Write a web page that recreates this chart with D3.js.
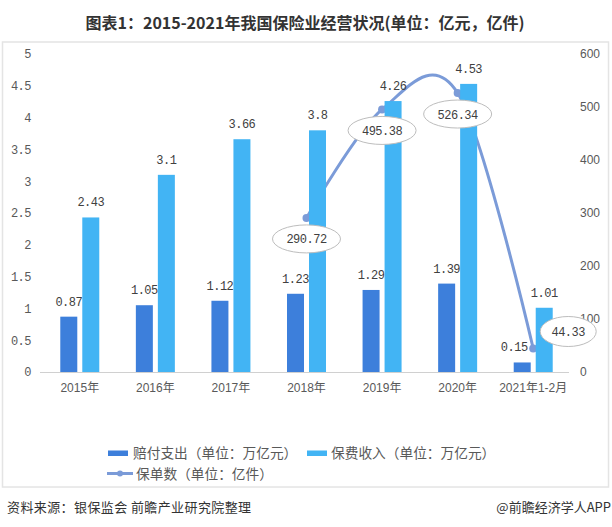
<!DOCTYPE html>
<html><head><meta charset="utf-8">
<script src="https://cdn.jsdelivr.net/npm/d3@7"></script>
<style>
html,body{margin:0;padding:0;background:#fff;}
svg{display:block;}
</style></head>
<body>
<script>
const categories = ["2015年","2016年","2017年","2018年","2019年","2020年","2021年1-2月"];
const payout = [0.87,1.05,1.12,1.23,1.29,1.39,0.15];
const premium = [2.43,3.1,3.66,3.8,4.26,4.53,1.01];
const policies = [null,null,null,290.72,495.38,526.34,44.33];
const leftTicks = [0,0.5,1,1.5,2,2.5,3,3.5,4,4.5,5];
const rightTicks = [0,100,200,300,400,500,600];
const seriesNames = ["赔付支出（单位：万亿元）","保费收入（单位：万亿元）","保单数（单位：亿件）"];
const titleText = "图表1：2015-2021年我国保险业经营状况(单位：亿元，亿件)";
const sourceText = "资料来源：银保监会 前瞻产业研究院整理";
const brandText = "@前瞻经济学人APP";

const W = 612, H = 527;
const C_DARK = "#3d7fdb", C_LIGHT = "#42b4f4", C_LINE = "#7b9bd8";
const MONO = "'Liberation Mono', 'DejaVu Sans Mono', monospace";
const SANS = "'Liberation Sans', Arial, sans-serif";
const CJK = "'Noto Sans CJK SC', 'Noto Sans', sans-serif";

const svg = d3.select("body").append("svg").attr("width", W).attr("height", H);

// title
svg.append("text").attr("x", 305).attr("y", 29).attr("text-anchor","middle")
  .attr("font-family", CJK).attr("font-weight","bold").attr("font-size", 16)
  .attr("fill","#333").text(titleText);

// frame
svg.append("rect").attr("x",2.5).attr("y",42).attr("width",606).attr("height",445)
  .attr("fill","#fff").attr("stroke","#e4e4e4").attr("stroke-width",1.5);

const x = d3.scaleBand().domain(categories).range([42, 571]);
const inner = d3.scaleBand().domain(["payout","premium"]).range([0, 39]).paddingInner(5/22);
const innerOff = (x.bandwidth() - 39) / 2;
const yL = d3.scaleLinear().domain([0,5]).range([372, 54]);
const yR = d3.scaleLinear().domain([0,600]).range([372, 54]);

// left axis
const axL = svg.append("g").attr("transform","translate(31,0)")
  .call(d3.axisLeft(yL).tickValues(leftTicks).tickSize(0).tickPadding(0).tickFormat(d3.format("")));
axL.select(".domain").remove();
axL.selectAll("text").attr("font-family", MONO).attr("font-size", 12).attr("letter-spacing","-0.5")
  .attr("fill","#595959");

// right axis
const axR = svg.append("g").attr("transform","translate(580,0)")
  .call(d3.axisRight(yR).tickValues(rightTicks).tickSize(0).tickPadding(0));
axR.select(".domain").remove();
axR.selectAll("text").attr("font-family", SANS).attr("font-size", 12).attr("fill","#595959");

// x axis
const axB = svg.append("g").attr("transform","translate(0,372)")
  .call(d3.axisBottom(x).tickSize(0).tickPadding(11));
axB.select(".domain").attr("stroke","#d0d0d0").attr("d","M40,0.5H569");
axB.selectAll("text").attr("font-family", SANS + ", 'Noto Sans CJK SC'").attr("font-size", 12).attr("fill","#595959");

// line (behind bars)
const pts = categories.map((c,i)=>({c, v: policies[i]})).filter(d=>d.v!==null);
const cx = d => x(d.c) + x.bandwidth()/2;
svg.append("path").datum(pts)
  .attr("d", d3.line().x(cx).y(d=>yR(d.v)).curve(d3.curveCatmullRom.alpha(0)))
  .attr("fill","none").attr("stroke",C_LINE).attr("stroke-width",3);
svg.selectAll("circle.pt").data(pts).join("circle").attr("class","pt")
  .attr("cx",cx).attr("cy",d=>yR(d.v)).attr("r",4).attr("fill",C_LINE);

// bars
const barData = [];
categories.forEach((c,i)=>{
  barData.push({c, k:"payout", v: payout[i], i});
  barData.push({c, k:"premium", v: premium[i], i});
});
svg.selectAll("rect.bar").data(barData).join("rect").attr("class","bar")
  .attr("x", d=>x(d.c)+innerOff+inner(d.k))
  .attr("width", inner.bandwidth())
  .attr("y", d=>yL(d.v)).attr("height", d=>yL(0)-yL(d.v))
  .attr("fill", d=>d.k==="payout"?C_DARK:C_LIGHT);

// bar labels
svg.selectAll("text.bl").data(barData).join("text").attr("class","bl")
  .attr("x", d=>x(d.c)+innerOff+inner(d.k)+inner.bandwidth()/2 + (d.k==="payout" && d.i===6 ? -8 : 0))
  .attr("y", d=>yL(d.v)-11)
  .attr("text-anchor","middle").attr("font-family",MONO).attr("font-size",12)
  .attr("letter-spacing","-0.5").attr("fill","#404040")
  .text(d=>d.v);

// line labels in ellipses
const lblOff = {"2021年1-2月":[35,-17,28,15]};
const lg = svg.selectAll("g.ll").data(pts).join("g").attr("class","ll")
  .attr("transform", d=>{
    const o = lblOff[d.c] || [0,21,34,14];
    return `translate(${cx(d)+o[0]},${yR(d.v)+o[1]})`;
  });
lg.append("ellipse").attr("rx", d=>(lblOff[d.c]||[0,0,34])[2]).attr("ry", d=>(lblOff[d.c]||[0,0,34,14])[3])
  .attr("fill","#fff").attr("stroke","#bdbdbd").attr("stroke-width",1);
lg.append("text").attr("y",4.5).attr("text-anchor","middle").attr("font-family",MONO)
  .attr("font-size",12).attr("letter-spacing","-0.5").attr("fill","#404040").text(d=>d.v);

// legend
const leg = svg.append("g").attr("font-family",CJK).attr("font-size",13.7).attr("fill","#595959");
leg.append("rect").attr("x",108).attr("y",450.5).attr("width",20).attr("height",5.5).attr("fill",C_DARK);
leg.append("text").attr("x",133).attr("y",458).text(seriesNames[0]);
leg.append("rect").attr("x",307).attr("y",450.5).attr("width",20).attr("height",5.5).attr("fill",C_LIGHT);
leg.append("text").attr("x",331).attr("y",458).text(seriesNames[1]);
leg.append("line").attr("x1",107).attr("x2",133).attr("y1",473.5).attr("y2",473.5)
  .attr("stroke",C_LINE).attr("stroke-width",3);
leg.append("circle").attr("cx",120).attr("cy",473.5).attr("r",3).attr("fill",C_LINE);
leg.append("text").attr("x",136).attr("y",478.5).text(seriesNames[2]);

// footer
svg.append("text").attr("x",7).attr("y",512).attr("font-family",CJK).attr("font-size",13)
  .attr("letter-spacing","0.4").attr("fill","#333").text(sourceText);
svg.append("text").attr("x",611).attr("y",512).attr("text-anchor","end").attr("font-family",CJK)
  .attr("font-size",13).attr("fill","#333").text(brandText);
</script>
</body></html>
